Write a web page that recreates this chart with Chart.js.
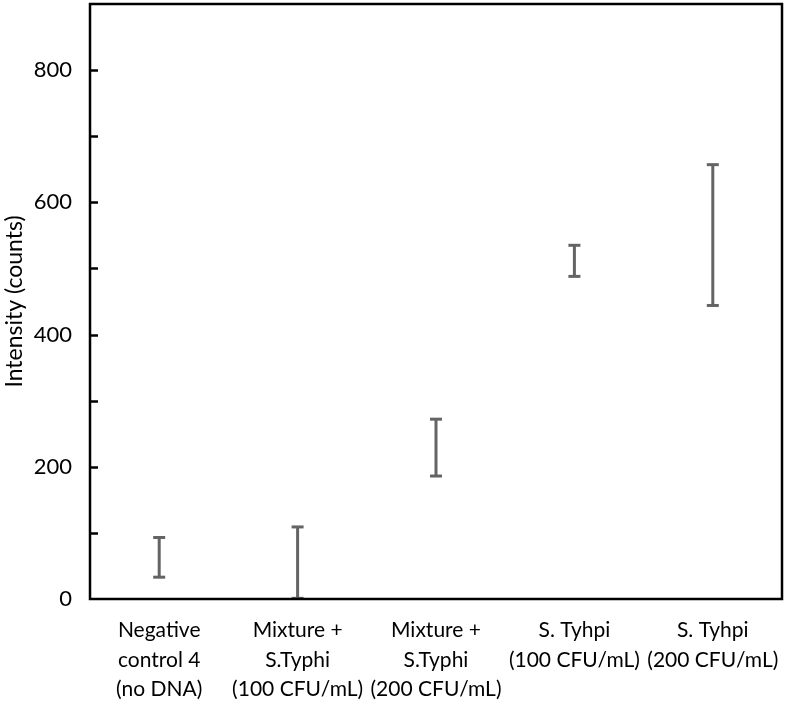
<!DOCTYPE html>
<html>
<head>
<meta charset="utf-8">
<script src="https://cdn.jsdelivr.net/npm/chart.js@4"></script>
<style>
  html, body { margin: 0; padding: 0; background: #fff; }
  #wrap { width: 786px; height: 705px; }
</style>
</head>
<body>
<div id="wrap"><canvas id="chart"></canvas></div>
<script>
// Intensity error bars (low / high) per sample
const categories = [
  ['Negative', 'control 4', '(no DNA)'],
  ['Mixture +', 'S.Typhi', '(100 CFU/mL)'],
  ['Mixture +', 'S.Typhi', '(200 CFU/mL)'],
  ['S. Tyhpi', '(100 CFU/mL)'],
  ['S. Tyhpi', '(200 CFU/mL)']
];
const lowValues = [33, 1, 186, 488, 444];
const highValues = [93, 109, 272, 535, 657];
const yMin = 0;
const yMax = 900;
const yStep = 100;

const FONT = 'Lato, "Liberation Sans", sans-serif';
const BAR_COLOR = '#646464';

// one small dataset per sample: two points joined by a line, caps from pointStyle 'line'
const datasets = categories.map((c, i) => ({
  data: [
    { x: i, y: lowValues[i] },
    { x: i, y: highValues[i] }
  ],
  borderColor: BAR_COLOR,
  borderWidth: 3,
  pointStyle: 'line',
  pointRadius: 6,
  pointBorderWidth: 3,
  pointBorderColor: BAR_COLOR,
  pointHoverRadius: 6,
  fill: false
}));

/** frame around the plot area + inward ticks on the y axis */
const framePlugin = {
  id: 'frame',
  afterDraw(chart) {
    const { ctx, chartArea: a, scales } = chart;
    ctx.save();
    ctx.strokeStyle = '#000';
    ctx.lineWidth = 2.5;
    ctx.strokeRect(a.left, a.top, a.right - a.left, a.bottom - a.top);
    for (let v = yMin + yStep; v < yMax; v += yStep) {
      const y = Math.round(scales.y.getPixelForValue(v)) + 0.5;
      ctx.beginPath();
      ctx.moveTo(a.left, y);
      ctx.lineTo(a.left + 8, y);
      ctx.stroke();
    }
    ctx.restore();
  }
};

new Chart(document.getElementById('chart'), {
  type: 'line',
  data: { labels: categories, datasets },
  options: {
    responsive: true,
    maintainAspectRatio: false,
    animation: false,
    layout: { autoPadding: false, padding: { top: 4, right: 4, left: 0, bottom: 0 } },
    plugins: { legend: { display: false }, tooltip: { enabled: false } },
    scales: {
      x: {
        type: 'linear',
        min: -0.5,
        max: categories.length - 0.5,
        afterBuildTicks(scale) {
          scale.ticks = categories.map((c, i) => ({ value: i }));
        },
        afterFit(scale) {
          scale.height = 106;
          scale.paddingLeft = 0;
          scale.paddingRight = 0;
        },
        grid: { display: false, drawTicks: false },
        border: { display: false },
        ticks: {
          autoSkip: false,
          maxRotation: 0,
          padding: 17,
          color: '#000',
          font: { family: FONT, size: 21, lineHeight: 1.4 },
          callback: (v) => categories[v]
        }
      },
      y: {
        min: yMin,
        max: yMax,
        afterFit(scale) {
          scale.width = 90;
          scale.paddingTop = 0;
          scale.paddingBottom = 0;
        },
        grid: { display: false, drawTicks: false },
        border: { display: false },
        ticks: {
          stepSize: 200,
          padding: 18,
          color: '#000',
          font: { family: FONT, size: 22 },
          callback: (v) => (v < yMax ? v : '')
        },
        title: {
          display: true,
          text: 'Intensity (counts)',
          color: '#000',
          padding: { top: 1, bottom: 0 },
          font: { family: FONT, size: 23 }
        }
      }
    }
  },
  plugins: [framePlugin]
});
</script>
</body>
</html>
